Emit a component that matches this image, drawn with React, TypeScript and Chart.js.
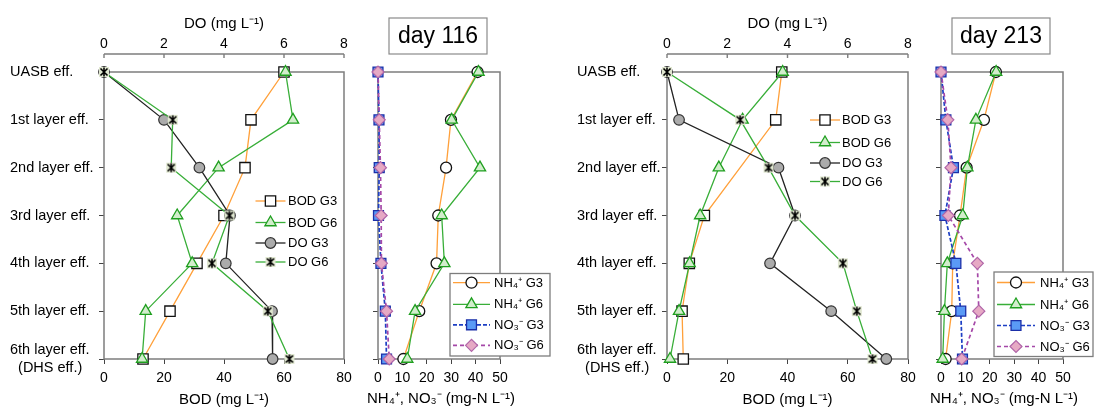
import React, { useEffect, useRef } from 'react';
import { Chart, registerables } from 'chart.js';

Chart.register(...registerables);

const FONT = "'Liberation Sans', Arial, Helvetica, sans-serif";
Chart.defaults.font.family = FONT;
Chart.defaults.color = '#000';

// ---------- categories / tick labels ----------
const categories: (string | string[])[] = [
  'UASB eff.',
  '1st layer eff.',
  '2nd layer eff.',
  '3rd layer eff.',
  '4th layer eff.',
  '5th layer eff.',
  ['6th layer eff.', '  (DHS eff.)'],
];
const bodRange = [0, 80];
const bodStep = 20;
const doRange = [0, 8];
const doStep = 2;
const nRange = [0, 50];
const nStep = 10;

const seriesLabels = {
  bodG3: 'BOD G3',
  bodG6: 'BOD G6',
  doG3: 'DO G3',
  doG6: 'DO G6',
  nh4G3: 'NH\u2084\u207A G3',
  nh4G6: 'NH\u2084\u207A G6',
  no3G3: 'NO\u2083\u207B G3',
  no3G6: 'NO\u2083\u207B G6',
};
const bodTitle = 'BOD (mg L\u207B\u00B9)';
const doTitle = 'DO (mg L\u207B\u00B9)';
const nTitle = 'NH\u2084\u207A, NO\u2083\u207B (mg-N L\u207B\u00B9)';

// ---------- day 116 ----------
const bod116G3 = [60, 49, 47, 40, 31, 22, 13];
const bod116G6 = [60.5, 63, 38.2, 24.4, 29.4, 13.9, 12.7];
const do116G3 = [0, 2.0, 3.18, 4.2, 4.06, 5.6, 5.62];
const do116G6 = [0, 2.29, 2.24, 4.18, 3.6, 5.46, 6.18];
const nh4116G3 = [40.8, 29.9, 27.9, 24.7, 24.0, 16.9, 10.4];
const nh4116G6 = [41.2, 30.2, 41.8, 26.1, 27.2, 15.2, 12.0];
const no3116G3 = [0, 0.4, 0.5, 0.2, 1.2, 3.0, 3.5];
const no3116G6 = [0, 0.5, 1.0, 1.3, 1.4, 3.5, 4.6];

// ---------- day 213 ----------
const bod213G3 = [38.1, 36.1, null, 12.4, 7.4, 5.0, 5.4];
const bod213G6 = [38.4, 25.1, 17.2, 11.0, 7.5, 4.0, 1.0];
const do213G3 = [0, 0.4, 3.7, 4.25, 3.42, 5.45, 7.28];
const do213G6 = [0, 2.43, 3.37, 4.25, 5.84, 6.3, 6.82];
const nh4213G3 = [22.5, 17.6, 10.5, 7.8, 4.8, 4.4, 1.9];
const nh4213G6 = [22.6, 14.3, 10.8, 8.9, 2.6, 1.4, 0.7];
const no3213G3 = [0, 2.0, 5.1, 1.6, 6.1, 8.1, 8.8];
const no3213G6 = [0, 2.8, 4.1, 3.0, 14.9, 15.5, 8.5];

// ---------- styles ----------
const ORANGE = '#FFA03A';
const GREEN = '#38AE38';
const BOX = '#7d7d7d';
const TICK = '#444';
const H = 408;

function makeStar(): HTMLCanvasElement {
  const c = document.createElement('canvas');
  c.width = 12;
  c.height = 12;
  const g = c.getContext('2d')!;
  g.fillStyle = '#dfe6cf';
  g.fillRect(1, 1, 10, 10);
  g.strokeStyle = '#000';
  g.lineWidth = 1.6;
  g.beginPath();
  g.moveTo(2.5, 2.5);
  g.lineTo(9.5, 9.5);
  g.moveTo(9.5, 2.5);
  g.lineTo(2.5, 9.5);
  g.moveTo(6, 1.5);
  g.lineTo(6, 10.5);
  g.stroke();
  return c;
}

function styles(star: HTMLCanvasElement) {
  const base = { tension: 0, clip: false, spanGaps: true, pointHoverRadius: 0 };
  return {
    bodG3: { ...base, borderColor: ORANGE, borderWidth: 1.3, pointStyle: 'rect', pointRadius: 7.3, pointBackgroundColor: '#fff', pointBorderColor: '#111', pointBorderWidth: 1.3, order: 4 },
    bodG6: { ...base, borderColor: GREEN, borderWidth: 1.3, pointStyle: 'triangle', pointRadius: 6.5, pointBackgroundColor: '#d2edcc', pointBorderColor: '#1f9f1f', pointBorderWidth: 1.3, order: 3 },
    doG3: { ...base, borderColor: '#222', borderWidth: 1.3, pointStyle: 'circle', pointRadius: 5.3, pointBackgroundColor: '#ababab', pointBorderColor: '#333', pointBorderWidth: 1.2, order: 2 },
    doG6: { ...base, borderColor: GREEN, borderWidth: 1.3, pointStyle: star, pointRadius: 6, order: 1 },
    nh4G3: { ...base, borderColor: ORANGE, borderWidth: 1.3, pointStyle: 'circle', pointRadius: 5.5, pointBackgroundColor: '#fff', pointBorderColor: '#111', pointBorderWidth: 1.3, order: 4 },
    nh4G6: { ...base, borderColor: GREEN, borderWidth: 1.3, pointStyle: 'triangle', pointRadius: 6.5, pointBackgroundColor: '#d2edcc', pointBorderColor: '#1f9f1f', pointBorderWidth: 1.3, order: 3 },
    no3G3: { ...base, borderColor: '#1d3fc4', borderWidth: 1.7, borderDash: [4, 2], pointStyle: 'rect', pointRadius: 7, pointBackgroundColor: '#5a9af6', pointBorderColor: '#1b2fa8', pointBorderWidth: 1.3, order: 2 },
    no3G6: { ...base, borderColor: '#a548a8', borderWidth: 1.7, borderDash: [4, 3], pointStyle: 'rectRot', pointRadius: 6, pointBackgroundColor: '#e6a9c4', pointBorderColor: '#b065a8', pointBorderWidth: 1.2, order: 1 },
  };
}

// ---------- helpers ----------
function drawMarker(ctx: CanvasRenderingContext2D, ds: any, x: number, y: number) {
  const st = ds.pointStyle;
  const r = ds.pointRadius;
  ctx.save();
  ctx.setLineDash([]);
  if (st instanceof HTMLCanvasElement) {
    ctx.drawImage(st, x - st.width / 2, y - st.height / 2);
    ctx.restore();
    return;
  }
  ctx.fillStyle = ds.pointBackgroundColor;
  ctx.strokeStyle = ds.pointBorderColor;
  ctx.lineWidth = ds.pointBorderWidth;
  ctx.beginPath();
  if (st === 'circle') {
    ctx.arc(x, y, r, 0, Math.PI * 2);
  } else if (st === 'rect') {
    const s = r * Math.SQRT1_2;
    ctx.rect(x - s, y - s, 2 * s, 2 * s);
  } else if (st === 'triangle') {
    let a = 0;
    ctx.moveTo(x + Math.sin(a) * r, y - Math.cos(a) * r);
    a += (2 * Math.PI) / 3;
    ctx.lineTo(x + Math.sin(a) * r, y - Math.cos(a) * r);
    a += (2 * Math.PI) / 3;
    ctx.lineTo(x + Math.sin(a) * r, y - Math.cos(a) * r);
    ctx.closePath();
  } else if (st === 'rectRot') {
    ctx.moveTo(x - r, y);
    ctx.lineTo(x, y - r);
    ctx.lineTo(x + r, y);
    ctx.lineTo(x, y + r);
    ctx.closePath();
  }
  ctx.fill();
  ctx.stroke();
  ctx.restore();
}

type LegendCfg = { box: null | { x: number; y: number; w: number; h: number }; x0: number; x1: number; tx: number; rows: number[] };

function legendPlugin(cfg: LegendCfg) {
  return {
    id: 'panelLegend',
    afterDraw(chart: any) {
      const ctx: CanvasRenderingContext2D = chart.ctx;
      ctx.save();
      if (cfg.box) {
        ctx.fillStyle = '#fff';
        ctx.fillRect(cfg.box.x, cfg.box.y, cfg.box.w, cfg.box.h);
        ctx.strokeStyle = BOX;
        ctx.lineWidth = 1.3;
        ctx.strokeRect(cfg.box.x, cfg.box.y, cfg.box.w, cfg.box.h);
      }
      chart.data.datasets.forEach((ds: any, k: number) => {
        const y = cfg.rows[k];
        ctx.beginPath();
        ctx.strokeStyle = ds.borderColor;
        ctx.lineWidth = ds.borderWidth;
        ctx.setLineDash(ds.borderDash || []);
        ctx.moveTo(cfg.x0, y);
        ctx.lineTo(cfg.x1, y);
        ctx.stroke();
        ctx.setLineDash([]);
        drawMarker(ctx, ds, (cfg.x0 + cfg.x1) / 2, y);
        ctx.fillStyle = '#000';
        ctx.font = `13px ${FONT}`;
        ctx.textAlign = 'left';
        ctx.textBaseline = 'middle';
        ctx.fillText(ds.label, cfg.tx, y + 0.5);
      });
      ctx.restore();
    },
  };
}

const boxPlugin = {
  id: 'plotBox',
  beforeDatasetsDraw(chart: any) {
    const { left, top, width, height } = chart.chartArea;
    const ctx: CanvasRenderingContext2D = chart.ctx;
    ctx.save();
    ctx.strokeStyle = BOX;
    ctx.lineWidth = 1.5;
    ctx.strokeRect(left, top, width, height);
    ctx.restore();
  },
};

function doAxisPlugin(y: number) {
  return {
    id: 'doAxisLine',
    afterDraw(chart: any) {
      const s = chart.scales.x2;
      const ctx: CanvasRenderingContext2D = chart.ctx;
      ctx.save();
      ctx.strokeStyle = BOX;
      ctx.lineWidth = 1.4;
      ctx.beginPath();
      ctx.moveTo(s.left, y);
      ctx.lineTo(s.right, y);
      s.ticks.forEach((t: any) => {
        const px = s.getPixelForValue(t.value);
        ctx.moveTo(px, y);
        ctx.lineTo(px, y + 4);
      });
      ctx.stroke();
      ctx.restore();
    },
  };
}

// axis title that may be wider than its axis (no squeezing)
function wideTitlePlugin(text: string, y: number) {
  return {
    id: 'wideTitle',
    afterDraw(chart: any) {
      const s = chart.scales.x;
      const ctx: CanvasRenderingContext2D = chart.ctx;
      ctx.save();
      ctx.fillStyle = '#000';
      ctx.font = `15px ${FONT}`;
      ctx.textAlign = 'center';
      ctx.textBaseline = 'middle';
      ctx.fillText(text, (s.left + s.right) / 2 + 2, y);
      ctx.restore();
    },
  };
}

function dayBoxPlugin(text: string, x: number, y: number, w: number, h: number) {
  return {
    id: 'dayBox',
    afterDraw(chart: any) {
      const ctx: CanvasRenderingContext2D = chart.ctx;
      ctx.save();
      ctx.fillStyle = '#fff';
      ctx.fillRect(x, y, w, h);
      ctx.strokeStyle = '#8a8a8a';
      ctx.lineWidth = 1.2;
      ctx.strokeRect(x, y, w, h);
      ctx.fillStyle = '#000';
      ctx.font = `23px ${FONT}`;
      ctx.textAlign = 'center';
      ctx.textBaseline = 'middle';
      ctx.fillText(text, x + w / 2, y + h / 2 + 1);
      ctx.restore();
    },
  };
}

function catAxis(width: number, showLabels: boolean) {
  return {
    type: 'category',
    position: 'left',
    offset: false,
    grid: { display: true, drawOnChartArea: false, drawTicks: true, tickLength: 5, color: TICK, lineWidth: 1 },
    border: { display: false },
    ticks: { display: showLabels, crossAlign: 'far', autoSkip: false, color: '#000', font: { size: 14.5, lineHeight: 1.22 }, padding: 4 },
    afterFit: (s: any) => {
      s.width = width;
      s.paddingTop = 0;
      s.paddingBottom = 0;
    },
  };
}

function bottomAxis(range: number[], step: number, title: string | null) {
  return {
    type: 'linear',
    position: 'bottom',
    min: range[0],
    max: range[1],
    grid: { display: true, drawOnChartArea: false, drawTicks: true, tickLength: 5, color: TICK, lineWidth: 1 },
    border: { display: false },
    ticks: { stepSize: step, color: '#000', font: { size: 14 }, padding: 6, maxRotation: 0 },
    title: { display: !!title, text: title || '', color: '#000', font: { size: 15, lineHeight: 1.1 }, padding: { top: 0, bottom: 0 } },
    afterFit: (s: any) => {
      s.height = H - 359;
      s.paddingLeft = 0;
      s.paddingRight = 0;
    },
  };
}

function topAxis(range: number[], step: number, title: string) {
  return {
    type: 'linear',
    position: 'top',
    min: range[0],
    max: range[1],
    grid: { display: false, drawOnChartArea: false, drawTicks: false },
    border: { display: false },
    ticks: { stepSize: step, color: '#000', font: { size: 14 }, padding: 19, maxRotation: 0 },
    title: { display: true, text: title, color: '#000', font: { size: 15 }, padding: { top: 15, bottom: 0 } },
    afterFit: (s: any) => {
      s.height = 72;
      s.paddingLeft = 0;
      s.paddingRight = 0;
    },
  };
}

function baseConfig(datasets: any[], scales: any, padding: any, plugins: any[]) {
  return {
    type: 'line',
    data: { labels: categories, datasets },
    options: {
      indexAxis: 'y',
      animation: false,
      responsive: false,
      devicePixelRatio: 1,
      events: [],
      layout: { padding },
      plugins: { legend: { display: false }, tooltip: { enabled: false }, title: { display: false } },
      scales,
    },
    plugins,
  };
}

// panel A: BOD/DO day 116 (canvas x 0..360)
function configA(star: HTMLCanvasElement) {
  const s = styles(star);
  return baseConfig(
    [
      { ...s.bodG3, label: seriesLabels.bodG3, data: bod116G3, xAxisID: 'x', yAxisID: 'y' },
      { ...s.bodG6, label: seriesLabels.bodG6, data: bod116G6, xAxisID: 'x', yAxisID: 'y' },
      { ...s.doG3, label: seriesLabels.doG3, data: do116G3, xAxisID: 'x2', yAxisID: 'y' },
      { ...s.doG6, label: seriesLabels.doG6, data: do116G6, xAxisID: 'x2', yAxisID: 'y' },
    ],
    { y: catAxis(94, true), x: bottomAxis(bodRange, bodStep, bodTitle), x2: topAxis(doRange, doStep, doTitle) },
    { left: 10, right: 16, top: 0, bottom: 0 },
    [boxPlugin, doAxisPlugin(54), legendPlugin({ box: null, x0: 255.5, x1: 285.5, tx: 288, rows: [201, 222.5, 243, 262] })]
  );
}

// panel B: N day 116 (canvas x 360..560)
function configB(star: HTMLCanvasElement) {
  const s = styles(star);
  return baseConfig(
    [
      { ...s.nh4G3, label: seriesLabels.nh4G3, data: nh4116G3, xAxisID: 'x', yAxisID: 'y' },
      { ...s.nh4G6, label: seriesLabels.nh4G6, data: nh4116G6, xAxisID: 'x', yAxisID: 'y' },
      { ...s.no3G3, label: seriesLabels.no3G3, data: no3116G3, xAxisID: 'x', yAxisID: 'y' },
      { ...s.no3G6, label: seriesLabels.no3G6, data: no3116G6, xAxisID: 'x', yAxisID: 'y' },
    ],
    { y: catAxis(18, false), x: bottomAxis(nRange, nStep, null) },
    { left: 0, right: 60, top: 72, bottom: 0 },
    [boxPlugin, wideTitlePlugin(nTitle, 399), dayBoxPlugin('day 116', 29, 18, 98, 36), legendPlugin({ box: { x: 90, y: 273.5, w: 100, h: 82.5 }, x0: 93, x1: 130, tx: 134, rows: [282.7, 304.3, 324.8, 345.3] })]
  );
}

// panel C: BOD/DO day 213 (canvas x 560..920)
function configC(star: HTMLCanvasElement) {
  const s = styles(star);
  return baseConfig(
    [
      { ...s.bodG3, label: seriesLabels.bodG3, data: bod213G3, xAxisID: 'x', yAxisID: 'y' },
      { ...s.bodG6, label: seriesLabels.bodG6, data: bod213G6, xAxisID: 'x', yAxisID: 'y' },
      { ...s.doG3, label: seriesLabels.doG3, data: do213G3, xAxisID: 'x2', yAxisID: 'y' },
      { ...s.doG6, label: seriesLabels.doG6, data: do213G6, xAxisID: 'x2', yAxisID: 'y' },
    ],
    { y: catAxis(90, true), x: bottomAxis(bodRange, bodStep, bodTitle), x2: topAxis(doRange, doStep, doTitle) },
    { left: 17, right: 12, top: 0, bottom: 0 },
    [boxPlugin, doAxisPlugin(54), legendPlugin({ box: null, x0: 250, x1: 280, tx: 282, rows: [120, 142.5, 163, 181.5] })]
  );
}

// panel D: N day 213 (canvas x 920..1094)
function configD(star: HTMLCanvasElement) {
  const s = styles(star);
  return baseConfig(
    [
      { ...s.nh4G3, label: seriesLabels.nh4G3, data: nh4213G3, xAxisID: 'x', yAxisID: 'y' },
      { ...s.nh4G6, label: seriesLabels.nh4G6, data: nh4213G6, xAxisID: 'x', yAxisID: 'y' },
      { ...s.no3G3, label: seriesLabels.no3G3, data: no3213G3, xAxisID: 'x', yAxisID: 'y' },
      { ...s.no3G6, label: seriesLabels.no3G6, data: no3213G6, xAxisID: 'x', yAxisID: 'y' },
    ],
    { y: catAxis(21, false), x: bottomAxis(nRange, nStep, null) },
    { left: 0, right: 31, top: 72, bottom: 0 },
    [boxPlugin, wideTitlePlugin(nTitle, 399), dayBoxPlugin('day 213', 32, 18, 98, 36), legendPlugin({ box: { x: 74, y: 272, w: 99, h: 84.5 }, x0: 77, x1: 115, tx: 120, rows: [282.5, 304.5, 325.5, 346.5] })]
  );
}

function Panel({ left, width, make }: { left: number; width: number; make: (star: HTMLCanvasElement) => any }) {
  const ref = useRef<HTMLCanvasElement>(null);
  useEffect(() => {
    const star = makeStar();
    const chart = new Chart(ref.current as HTMLCanvasElement, make(star));
    return () => chart.destroy();
  }, []);
  return <canvas ref={ref} width={width} height={H} style={{ position: 'absolute', left, top: 0, width, height: H, display: 'block' }} />;
}

export default function App() {
  return (
    <div style={{ position: 'fixed', left: 0, top: 0, width: 1094, height: H, background: '#fff', overflow: 'hidden' }}>
      <Panel left={0} width={360} make={configA} />
      <Panel left={360} width={200} make={configB} />
      <Panel left={560} width={360} make={configC} />
      <Panel left={920} width={174} make={configD} />
    </div>
  );
}
